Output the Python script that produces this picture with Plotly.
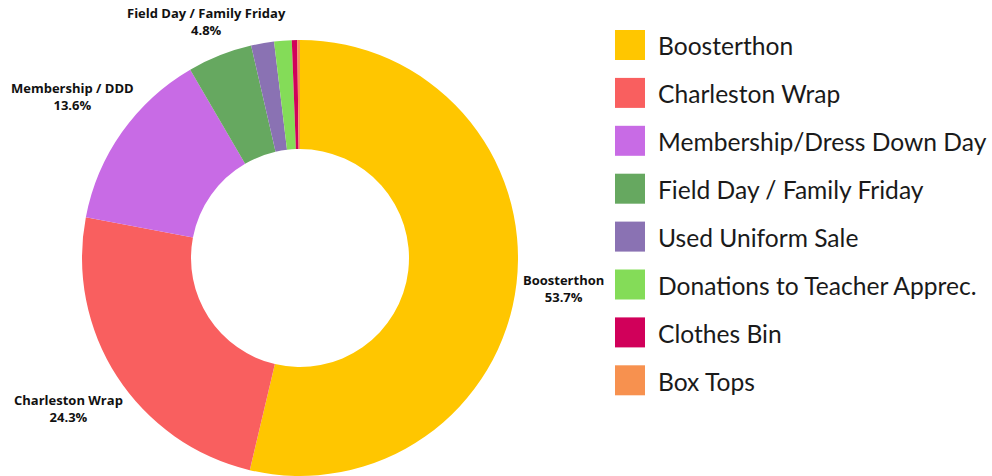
import math
import plotly.graph_objects as go

# ---- data ----
categories = ["Boosterthon", "Charleston Wrap", "Membership/Dress Down Day",
              "Field Day / Family Friday", "Used Uniform Sale",
              "Donations to Teacher Apprec.", "Clothes Bin", "Box Tops"]
short_labels = ["Boosterthon", "Charleston Wrap", "Membership / DDD",
                "Field Day / Family Friday", "", "", "", ""]
values = [53.7, 24.3, 13.6, 4.8, 1.7, 1.3, 0.4, 0.2]
colors = ["#FFC600", "#F95F5F", "#C86BE5", "#66A860", "#8A72B3",
          "#84DC58", "#D1005A", "#F7914F"]

# ---- style ----
W, H = 992, 476
CX, CY, R = 300, 258, 218          # pie centre / radius in pixels
label_dist = [265, 276, 279, 254]   # radial distance of outside label centres

fig = go.Figure(go.Pie(
    labels=categories,
    values=values,
    textinfo="none",
    hole=0.5,
    sort=False,
    direction="clockwise",
    rotation=0,
    marker=dict(colors=colors, line=dict(width=0)),
    domain=dict(x=[(CX - R) / W, (CX + R) / W],
                y=[1 - (CY + R) / H, 1 - (CY - R) / H]),
    showlegend=False,
))

annotations = []
shapes = []

# outside labels centred on slice mid-angles
total = sum(values)
cum = 0.0
li = 0
for name, v in zip(short_labels, values):
    mid = (cum + v / 2) / total * 2 * math.pi
    cum += v
    if not name:
        continue
    r = label_dist[li]
    li += 1
    px = CX + r * math.sin(mid)
    py = CY - r * math.cos(mid)
    annotations.append(dict(
        xref="paper", yref="paper", x=px / W, y=1 - py / H,
        xanchor="center", yanchor="middle", showarrow=False, align="center",
        text=f"<b>{name}</b><br><b>{v / total * 100:.1f}%</b>",
        font=dict(family="Open Sans", size=13, color="#111111")))

# custom legend with large swatches
x0, sw = 615, 30
y_start, step = 45, 47.9
for i, (name, col) in enumerate(zip(categories, colors)):
    cy = y_start + i * step
    shapes.append(dict(type="rect", xref="paper", yref="paper",
                       x0=x0 / W, x1=(x0 + sw) / W,
                       y0=1 - (cy + sw / 2) / H, y1=1 - (cy - sw / 2) / H,
                       fillcolor=col, line=dict(width=0)))
    annotations.append(dict(xref="paper", yref="paper", x=656 / W, y=1 - (cy + 1) / H,
                            xanchor="left", yanchor="middle", showarrow=False,
                            text=name, font=dict(family="Lato", size=24.6, color="#1a1a1a")))

fig.update_layout(
    width=W, height=H,
    margin=dict(l=0, r=0, t=0, b=0),
    paper_bgcolor="white", plot_bgcolor="white",
    shapes=shapes, annotations=annotations,
)

fig.write_html("out.html", config={"displayModeBar": False},
               post_script="document.body.style.margin='0px';")
